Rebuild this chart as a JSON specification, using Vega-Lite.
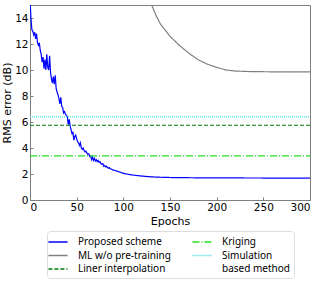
{
  "$schema": "https://vega.github.io/schema/vega-lite/v6.json",
  "width": 280,
  "height": 195,
  "autosize": "none",
  "padding": {"left": 30, "top": 5, "right": 14, "bottom": 82},
  "config": {
    "font": "DejaVu Sans",
    "view": {"stroke": "#808080", "strokeWidth": 1},
    "axis": {"grid": false, "domainColor": "#808080", "tickColor": "#808080", "labelColor": "#000", "titleColor": "#000", "labelFontSize": 10.5, "titleFontSize": 11, "titleFontWeight": "normal"}
  },
  "data": {"values": [
    {"x":0,"y":15.6,"s":"Proposed scheme"},{"x":1,"y":14.0,"s":"Proposed scheme"},{"x":2,"y":13.1,"s":"Proposed scheme"},{"x":3,"y":13.0,"s":"Proposed scheme"},{"x":4,"y":12.7,"s":"Proposed scheme"},{"x":5,"y":12.9,"s":"Proposed scheme"},{"x":6,"y":12.4,"s":"Proposed scheme"},{"x":7,"y":12.8,"s":"Proposed scheme"},{"x":8,"y":12.1,"s":"Proposed scheme"},{"x":9,"y":11.9,"s":"Proposed scheme"},{"x":10,"y":12.1,"s":"Proposed scheme"},{"x":11,"y":11.5,"s":"Proposed scheme"},{"x":12,"y":11.2,"s":"Proposed scheme"},{"x":13,"y":10.6,"s":"Proposed scheme"},{"x":14,"y":11.0,"s":"Proposed scheme"},{"x":15,"y":10.1,"s":"Proposed scheme"},{"x":16,"y":10.8,"s":"Proposed scheme"},{"x":17,"y":10.0,"s":"Proposed scheme"},{"x":18,"y":11.2,"s":"Proposed scheme"},{"x":19,"y":10.2,"s":"Proposed scheme"},{"x":20,"y":10.0,"s":"Proposed scheme"},{"x":21,"y":11.1,"s":"Proposed scheme"},{"x":22,"y":9.8,"s":"Proposed scheme"},{"x":23,"y":9.3,"s":"Proposed scheme"},{"x":24,"y":9.0,"s":"Proposed scheme"},{"x":25,"y":9.5,"s":"Proposed scheme"},{"x":26,"y":8.9,"s":"Proposed scheme"},{"x":27,"y":9.6,"s":"Proposed scheme"},{"x":28,"y":8.6,"s":"Proposed scheme"},{"x":29,"y":8.3,"s":"Proposed scheme"},{"x":30,"y":8.1,"s":"Proposed scheme"},{"x":31,"y":7.8,"s":"Proposed scheme"},{"x":32,"y":7.4,"s":"Proposed scheme"},{"x":33,"y":7.9,"s":"Proposed scheme"},{"x":34,"y":7.2,"s":"Proposed scheme"},{"x":35,"y":7.1,"s":"Proposed scheme"},{"x":36,"y":6.7,"s":"Proposed scheme"},{"x":37,"y":6.8,"s":"Proposed scheme"},{"x":38,"y":6.6,"s":"Proposed scheme"},{"x":39,"y":6.5,"s":"Proposed scheme"},{"x":40,"y":6.4,"s":"Proposed scheme"},{"x":41,"y":5.8,"s":"Proposed scheme"},{"x":42,"y":6.2,"s":"Proposed scheme"},{"x":43,"y":5.7,"s":"Proposed scheme"},{"x":44,"y":5.4,"s":"Proposed scheme"},{"x":45,"y":5.1,"s":"Proposed scheme"},{"x":46,"y":5.2,"s":"Proposed scheme"},{"x":47,"y":4.6,"s":"Proposed scheme"},{"x":48,"y":4.9,"s":"Proposed scheme"},{"x":49,"y":5.0,"s":"Proposed scheme"},{"x":50,"y":4.7,"s":"Proposed scheme"},{"x":51,"y":4.5,"s":"Proposed scheme"},{"x":52,"y":4.4,"s":"Proposed scheme"},{"x":53,"y":4.2,"s":"Proposed scheme"},{"x":54,"y":4.4,"s":"Proposed scheme"},{"x":55,"y":4.0,"s":"Proposed scheme"},{"x":56,"y":3.9,"s":"Proposed scheme"},{"x":57,"y":4.0,"s":"Proposed scheme"},{"x":58,"y":3.8,"s":"Proposed scheme"},{"x":59,"y":3.7,"s":"Proposed scheme"},{"x":60,"y":3.75,"s":"Proposed scheme"},{"x":61,"y":3.6,"s":"Proposed scheme"},{"x":62,"y":3.5,"s":"Proposed scheme"},{"x":63,"y":3.55,"s":"Proposed scheme"},{"x":64,"y":3.35,"s":"Proposed scheme"},{"x":65,"y":3.4,"s":"Proposed scheme"},{"x":66,"y":3.1,"s":"Proposed scheme"},{"x":67,"y":3.3,"s":"Proposed scheme"},{"x":68,"y":3.05,"s":"Proposed scheme"},{"x":69,"y":3.2,"s":"Proposed scheme"},{"x":70,"y":3.0,"s":"Proposed scheme"},{"x":71,"y":3.1,"s":"Proposed scheme"},{"x":72,"y":2.95,"s":"Proposed scheme"},{"x":73,"y":3.05,"s":"Proposed scheme"},{"x":74,"y":2.9,"s":"Proposed scheme"},{"x":75,"y":2.95,"s":"Proposed scheme"},{"x":76,"y":2.8,"s":"Proposed scheme"},{"x":77,"y":2.75,"s":"Proposed scheme"},{"x":78,"y":2.8,"s":"Proposed scheme"},{"x":79,"y":2.6,"s":"Proposed scheme"},{"x":80,"y":2.65,"s":"Proposed scheme"},{"x":81,"y":2.55,"s":"Proposed scheme"},{"x":82,"y":2.6,"s":"Proposed scheme"},{"x":83,"y":2.5,"s":"Proposed scheme"},{"x":84,"y":2.45,"s":"Proposed scheme"},{"x":85,"y":2.5,"s":"Proposed scheme"},{"x":86,"y":2.4,"s":"Proposed scheme"},{"x":87,"y":2.38,"s":"Proposed scheme"},{"x":88,"y":2.35,"s":"Proposed scheme"},{"x":89,"y":2.3,"s":"Proposed scheme"},{"x":90,"y":2.3,"s":"Proposed scheme"},{"x":92,"y":2.25,"s":"Proposed scheme"},{"x":94,"y":2.2,"s":"Proposed scheme"},{"x":96,"y":2.15,"s":"Proposed scheme"},{"x":98,"y":2.1,"s":"Proposed scheme"},{"x":100,"y":2.05,"s":"Proposed scheme"},{"x":105,"y":1.98,"s":"Proposed scheme"},{"x":110,"y":1.92,"s":"Proposed scheme"},{"x":115,"y":1.88,"s":"Proposed scheme"},{"x":120,"y":1.84,"s":"Proposed scheme"},{"x":130,"y":1.78,"s":"Proposed scheme"},{"x":140,"y":1.75,"s":"Proposed scheme"},{"x":150,"y":1.73,"s":"Proposed scheme"},{"x":175,"y":1.71,"s":"Proposed scheme"},{"x":200,"y":1.7,"s":"Proposed scheme"},{"x":250,"y":1.69,"s":"Proposed scheme"},{"x":300,"y":1.68,"s":"Proposed scheme"},
    {"x":128,"y":15.4,"s":"ML w/o pre-training"},{"x":135,"y":14.2,"s":"ML w/o pre-training"},{"x":140,"y":13.5,"s":"ML w/o pre-training"},{"x":150,"y":12.6,"s":"ML w/o pre-training"},{"x":160,"y":11.9,"s":"ML w/o pre-training"},{"x":170,"y":11.3,"s":"ML w/o pre-training"},{"x":180,"y":10.8,"s":"ML w/o pre-training"},{"x":190,"y":10.45,"s":"ML w/o pre-training"},{"x":200,"y":10.2,"s":"ML w/o pre-training"},{"x":210,"y":10.0,"s":"ML w/o pre-training"},{"x":220,"y":9.92,"s":"ML w/o pre-training"},{"x":235,"y":9.88,"s":"ML w/o pre-training"},{"x":260,"y":9.86,"s":"ML w/o pre-training"},{"x":300,"y":9.85,"s":"ML w/o pre-training"},
    {"x":0,"y":5.75,"s":"Liner interpolation"},{"x":300,"y":5.75,"s":"Liner interpolation"},
    {"x":0,"y":3.4,"s":"Kriging"},{"x":300,"y":3.4,"s":"Kriging"},
    {"x":0,"y":6.4,"s":"Simulation"},{"x":300,"y":6.4,"s":"Simulation"}
  ]},
  "mark": {"type": "line", "clip": true, "strokeWidth": 1.2},
  "encoding": {
    "x": {"field": "x", "type": "quantitative", "scale": {"domain": [0, 300], "nice": false}, "axis": {"values": [0,50,100,150,200,250,300], "title": "Epochs", "tickSize": -3, "labelPadding": 5, "titlePadding": 3}},
    "y": {"field": "y", "type": "quantitative", "scale": {"domain": [0, 15], "nice": false}, "axis": {"values": [0,2,4,6,8,10,12,14], "title": "RMS error (dB)", "tickSize": -3, "labelPadding": 5, "titlePadding": 2}},
    "color": {"field": "s", "type": "nominal",
      "scale": {"domain": ["Proposed scheme","ML w/o pre-training","Liner interpolation","Kriging","Simulation","based method"], "range": ["#0000ff","#808080","#007a00","#22dd22","#44dddd","rgba(0,0,0,0)"]},
      "legend": {"title": null, "orient": "none", "legendX": 17, "legendY": 226, "columns": 2, "columnPadding": 18, "rowPadding": 1.5, "symbolType": "M-1.6,0H1.6", "symbolSize": 144, "symbolStrokeWidth": 1.5, "labelOffset": 13, "labelFontSize": 10, "labelFont": "Noto Sans", "labelLimit": 200, "strokeColor": "#dddddd", "cornerRadius": 3, "padding": 4}},
    "strokeDash": {"field": "s", "type": "nominal",
      "scale": {"domain": ["Proposed scheme","ML w/o pre-training","Liner interpolation","Kriging","Simulation","based method"], "range": [[1,0],[1,0],[4,2],[7,2,1,2],[1,1],[1,0]]},
      "legend": null}
  }
}
